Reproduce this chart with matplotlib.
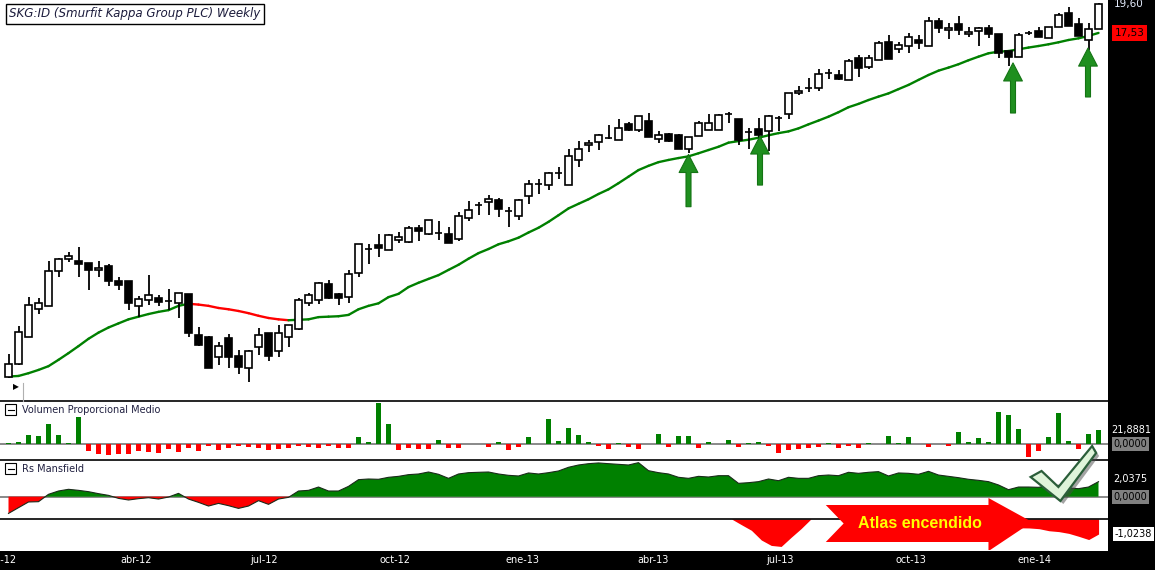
import matplotlib
matplotlib.use('Agg')
import matplotlib.pyplot as plt
import numpy as np
from matplotlib.patches import Polygon, Rectangle
from matplotlib.lines import Line2D
from matplotlib.transforms import blended_transform_factory
from matplotlib.ticker import NullLocator

# ---------------- data (weekly candles, SKG:ID) ----------------
opens = [4.66, 4.90, 5.44, 6.06, 6.13, 7.01, 7.34, 7.29, 7.23, 7.04,
         7.15, 6.75, 6.75, 6.13, 6.27, 6.32, 6.25, 6.20, 6.42, 5.48,
         5.44, 5.04, 5.42, 5.06, 4.83, 5.23, 5.52, 5.15, 5.44, 5.61,
         6.20, 6.27, 6.67, 6.42, 6.34, 6.96, 7.63, 7.75, 7.60, 7.90,
         7.84, 8.27, 8.09, 8.11, 8.09, 7.93, 8.60, 9.04, 9.14, 9.22,
         8.83, 8.67, 9.36, 9.80, 9.76, 10.22, 9.76, 10.75, 11.39, 11.52,
         11.70, 11.61, 12.35, 12.06, 12.49, 11.65, 11.88, 11.84, 11.21, 11.79,
         12.06, 12.06, 12.83, 12.59, 11.97, 12.11, 12.02, 12.64, 12.83, 13.91,
         14.18, 14.18, 15.02, 14.91, 14.63, 15.92, 15.38, 15.80, 16.93, 16.48,
         16.67, 17.06, 16.67, 18.35, 17.73, 18.15, 17.46, 17.66, 17.87, 17.46,
         16.35, 15.98, 17.53, 17.66, 17.19, 17.94, 18.93, 18.15, 17.06, 17.80]
highs = [5.09, 5.67, 6.34, 6.32, 7.29, 7.37, 7.54, 7.69, 7.23, 7.29,
         7.20, 6.85, 6.75, 6.37, 6.90, 6.39, 6.54, 6.44, 6.42, 5.65,
         5.46, 5.33, 5.50, 5.17, 5.17, 5.63, 5.52, 5.70, 5.70, 6.32,
         6.44, 6.72, 6.77, 6.44, 7.04, 7.78, 7.78, 8.09, 8.09, 8.15,
         8.34, 8.37, 8.53, 8.50, 8.31, 8.80, 9.18, 9.14, 9.40, 9.29,
         8.97, 9.25, 9.95, 9.99, 10.26, 10.46, 11.21, 11.56, 11.61, 11.88,
         12.30, 12.59, 12.44, 12.74, 12.88, 12.02, 11.92, 11.88, 11.75, 12.49,
         12.83, 12.83, 12.93, 12.59, 12.16, 12.64, 12.78, 12.74, 13.91, 14.30,
         14.74, 15.26, 15.26, 15.20, 15.86, 16.11, 16.11, 16.99, 17.40, 16.93,
         17.53, 17.40, 18.64, 18.57, 18.21, 18.72, 17.94, 17.94, 18.08, 17.46,
         16.35, 17.53, 17.66, 17.94, 17.94, 18.93, 19.37, 18.57, 18.21, 19.68]
lows = [4.65, 4.88, 5.44, 5.94, 6.13, 6.85, 7.26, 6.85, 6.52, 6.85,
        6.62, 6.52, 6.03, 5.87, 6.15, 6.13, 6.03, 5.85, 5.44, 5.25,
        4.83, 4.88, 4.83, 4.72, 4.57, 5.07, 4.96, 5.04, 5.23, 5.59,
        6.13, 6.18, 6.30, 6.15, 6.20, 6.85, 7.20, 7.40, 7.60, 7.81,
        7.81, 7.87, 8.05, 7.90, 7.81, 7.87, 8.50, 8.70, 8.70, 8.63,
        8.31, 8.53, 9.08, 9.43, 9.58, 9.99, 9.76, 10.46, 11.08, 11.17,
        11.65, 11.61, 12.02, 11.97, 11.75, 11.47, 11.52, 11.21, 11.04, 11.79,
        12.06, 12.06, 12.39, 11.39, 11.21, 11.61, 11.13, 12.02, 12.59, 13.81,
        13.96, 14.02, 14.68, 14.63, 14.63, 14.80, 15.26, 15.80, 15.86, 16.22,
        16.22, 16.48, 16.67, 17.53, 17.13, 17.40, 17.26, 16.67, 17.19, 15.92,
        15.44, 15.98, 17.40, 17.26, 17.19, 17.94, 18.01, 17.33, 16.42, 17.80]
closes = [4.90, 5.54, 6.15, 6.20, 7.01, 7.34, 7.43, 7.20, 7.04, 7.09,
          6.75, 6.64, 6.20, 6.30, 6.39, 6.22, 6.24, 6.44, 5.52, 5.27,
          4.83, 5.25, 5.04, 4.85, 5.15, 5.48, 5.06, 5.52, 5.70, 6.27,
          6.39, 6.69, 6.32, 6.32, 6.93, 7.78, 7.62, 7.66, 8.05, 7.99,
          8.27, 8.18, 8.53, 8.12, 7.81, 8.67, 8.87, 9.03, 9.25, 8.90,
          8.84, 9.22, 9.80, 9.81, 10.22, 10.23, 10.92, 11.21, 11.47, 11.84,
          11.71, 12.16, 12.06, 12.74, 11.75, 11.84, 11.56, 11.21, 11.75, 12.39,
          12.39, 12.78, 12.82, 11.61, 11.96, 11.84, 12.74, 12.65, 13.91, 14.02,
          14.17, 14.97, 15.03, 14.68, 15.73, 15.32, 15.92, 16.86, 15.86, 16.74,
          17.26, 16.86, 18.35, 17.87, 17.87, 17.73, 17.59, 17.87, 17.46, 16.22,
          15.98, 17.40, 17.54, 17.26, 17.94, 18.79, 18.01, 17.33, 17.80, 19.60]
ma30 = [4.67, 4.68, 4.73, 4.79, 4.86, 4.98, 5.11, 5.25, 5.40, 5.53,
        5.64, 5.73, 5.82, 5.88, 5.94, 5.99, 6.03, 6.13, 6.18, 6.16,
        6.13, 6.08, 6.05, 6.01, 5.96, 5.90, 5.85, 5.82, 5.80, 5.81,
        5.82, 5.87, 5.88, 5.89, 5.92, 6.05, 6.13, 6.19, 6.34, 6.42,
        6.59, 6.70, 6.80, 6.90, 7.04, 7.18, 7.35, 7.51, 7.63, 7.77,
        7.86, 7.97, 8.13, 8.28, 8.47, 8.69, 8.92, 9.08, 9.24, 9.43,
        9.60, 9.83, 10.08, 10.34, 10.51, 10.66, 10.75, 10.83, 10.90, 11.03,
        11.17, 11.31, 11.49, 11.56, 11.62, 11.71, 11.82, 11.92, 12.00, 12.14,
        12.33, 12.51, 12.70, 12.92, 13.17, 13.34, 13.54, 13.72, 13.89, 14.12,
        14.35, 14.63, 14.91, 15.16, 15.34, 15.54, 15.78, 16.00, 16.21, 16.31,
        16.35, 16.46, 16.57, 16.67, 16.78, 16.91, 17.06, 17.17, 17.33, 17.53]
volume = [2.0, 3.6, 14.3, 12.7, 31.0, 14.3, 2.0, 41.7, -9.7, -14.3,
          -16.3, -14.3, -14.3, -9.7, -11.2, -12.7, -6.6, -11.2, -5.1, -9.7,
          -2.0, -8.1, -5.1, -2.0, -4.1, -5.1, -8.1, -6.6, -5.1, -2.5,
          -4.1, -5.1, -2.0, -5.1, -5.1, 11.2, 3.6, 63.1, 31.0, -8.1,
          -5.1, -6.6, -6.6, 6.6, -5.1, -5.1, 0.0, 0.0, -3.6, 3.6,
          -8.1, -3.6, 11.2, 0.0, 38.7, 5.1, 24.9, 14.3, 3.6, -2.0,
          -6.6, 2.0, -3.6, -6.6, 0.0, 15.8, -3.6, 12.7, 12.7, -5.1,
          3.6, 0.0, 6.6, -3.6, 2.5, 3.6, -2.0, -12.7, -8.1, -6.6,
          -5.1, -3.6, 2.0, -5.1, -2.0, -5.1, 2.0, 0.0, 12.7, 2.0,
          11.2, 0.0, -3.6, 0.0, -2.0, 18.8, 3.6, 9.7, 3.6, 49.4,
          44.8, 23.4, -18.8, -9.7, 11.2, 47.8, 5.1, -6.6, 15.8, 21.8881]
rs_mansfield = [-2.27, -1.49, -0.72, -0.68, 0.32, 0.77, 1.00, 0.86, 0.68, 0.41,
                0.18, -0.23, -0.45, -0.27, -0.14, -0.32, -0.05, 0.45, -0.32, -0.77,
                -1.27, -0.91, -1.22, -1.59, -1.27, -0.54, -1.04, -0.32, -0.09, 0.77,
                0.86, 1.31, 0.77, 0.77, 1.40, 2.31, 2.40, 2.36, 2.63, 2.76,
                2.99, 3.08, 3.35, 3.04, 2.49, 3.08, 3.26, 3.31, 3.35, 3.08,
                2.90, 2.81, 3.22, 3.08, 3.26, 3.49, 3.99, 4.30, 4.48, 4.58,
                4.48, 4.39, 4.30, 4.62, 3.53, 3.26, 3.08, 2.63, 2.49, 2.76,
                2.67, 2.85, 2.85, 1.81, 1.90, 2.04, 2.40, 2.17, 2.63, 2.49,
                2.49, 2.85, 2.94, 2.85, 3.31, 3.17, 3.31, 3.40, 2.81, 3.22,
                3.17, 3.04, 3.44, 2.94, 2.76, 2.58, 2.36, 2.22, 2.04, 1.59,
                0.95, 1.31, 1.31, 1.27, 1.49, 1.54, 1.18, 1.09, 1.31, 2.0375]
atlas = [0.0] * 72 + [0.0, -0.39, -0.77, -1.43, -1.80, -1.87, -1.25, -0.66, 0.0] \
        + [0.0] * 16 + [-0.25, -0.45, -0.55, -0.60, -0.60, -0.61, -0.66, -0.80,
                        -0.86, -0.98, -1.18, -1.40, -1.0238]

tick_labels = ['ene-12', 'abr-12', 'jul-12', 'oct-12', 'ene-13',
               'abr-13', 'jul-13', 'oct-13', 'ene-14']
tick_pos = [-1.75, 12.0, 24.9, 38.1, 50.9, 64.1, 76.9, 90.05, 102.5]

# support arrows (week index, tip price, tail price)
arrow_week = [68.0, 75.15, 100.45, 107.95]
arrow_tip = [10.98, 11.79, 15.62, 16.54]
arrow_tail = [8.98, 9.76, 12.88, 13.70]

title = 'SKG:ID (Smurfit Kappa Group PLC) Weekly'

# ---------------- figure ----------------
W, H = 1155, 570
fig = plt.figure(figsize=(W / 100, H / 100), dpi=100, facecolor='black')


def fx(px):
    return px / W


def fy(py):
    return 1 - py / H


PLOT_RIGHT = 1108


def panel(top, bottom):
    a = fig.add_axes([0, fy(bottom), fx(PLOT_RIGHT), (bottom - top) / H])
    a.set_facecolor('white')
    for s in a.spines.values():
        s.set_visible(False)
    a.tick_params(left=False, bottom=False, labelleft=False, labelbottom=False)
    return a


ax = panel(0, 401)
axv = panel(401, 460)
axr = panel(460, 519)
axl = panel(519, 551)

n = len(closes)
idx = np.arange(n)
o = np.array(opens)
c = np.array(closes)
hi = np.array(highs)
lo = np.array(lows)
ma = np.array(ma30)
XL = (-0.85, 109.95)

# ---- main price panel ----
ax.set_yscale('log')
ax.set_ylim(4.25, 19.90)
ax.set_xlim(*XL)
ax.yaxis.set_major_locator(NullLocator())
ax.yaxis.set_minor_locator(NullLocator())
ax.set_xticks([])

for i in range(n - 1):
    col = '#ff0000' if ma[i + 1] < ma[i] else '#008000'
    ax.plot(idx[i:i + 2], ma[i:i + 2], color=col, lw=1.7,
            solid_capstyle='round', zorder=2)

up = c >= o
blo = np.minimum(o, c)
bh = np.maximum(np.abs(c - o), 0.01)
ax.vlines(idx, lo, hi, color='black', lw=1.3, zorder=3)
ax.bar(idx, bh, bottom=blo, width=0.76,
       color=np.where(up, 'white', 'black'), edgecolor='black',
       linewidth=1.2, zorder=4)

for xw, t, b in zip(arrow_week, arrow_tip, arrow_tail):
    ax.annotate('', xy=(xw, t), xytext=(xw, b),
                arrowprops=dict(facecolor='#1f8f1f', edgecolor='#147414',
                                width=3.6, headwidth=13.5, headlength=13,
                                shrink=0, lw=0.8), zorder=6)

tr = blended_transform_factory(ax.transAxes, ax.transData)
ax.text(1.005, c[-1], f'{c[-1]:.2f}'.replace('.', ','), transform=tr,
        color='#e6eeff', fontsize=7.5, va='center', ha='left', clip_on=False)
ax.text(1.006, ma[-1], f'{ma[-1]:.2f}'.replace('.', ','), transform=tr,
        color='black', fontsize=7.5, va='center', ha='left', clip_on=False,
        bbox=dict(boxstyle='square,pad=0.25', fc='#ff0000', ec='none'))

fig.text(fx(9), fy(14), title, fontsize=8.6, style='italic', color='#1c1c3c',
         va='center', ha='left',
         bbox=dict(boxstyle='square,pad=0.28', fc='white', ec='black', lw=1))
fig.text(fx(13), fy(387), '\u25B6', fontsize=5.5, color='black',
         va='center', ha='left')
fig.add_artist(Line2D([fx(23), fx(23)], [fy(383), fy(401)],
                      transform=fig.transFigure, color='#b0b0b0', lw=0.8))

# ---- volume panel ----
vol = np.array(volume)
axv.set_xlim(*XL)
axv.set_ylim(-24.0, 66.3)
axv.bar(idx, vol, width=0.5, color=np.where(vol >= 0, '#008000', '#ff0000'),
        zorder=2)
axv.axhline(0, color='#808080', lw=1.3, zorder=1)
axv.spines['top'].set_visible(True)
axv.spines['top'].set_color('black')
axv.spines['top'].set_linewidth(1.2)
trv = blended_transform_factory(axv.transAxes, axv.transData)
axv.text(1.003, vol[-1], f'{vol[-1]:.4f}'.replace('.', ','), transform=trv,
         color='white', fontsize=7, va='center', ha='left', clip_on=False)
axv.text(1.005, 0, '0,0000', transform=trv, color='black', fontsize=7,
         va='center', ha='left', clip_on=False,
         bbox=dict(boxstyle='square,pad=0.2', fc='#808080', ec='none'))

# ---- RS Mansfield panel ----
rs = np.array(rs_mansfield)
axr.set_xlim(*XL)
axr.set_ylim(-3.03, 4.98)
axr.fill_between(idx, 0, rs, where=rs >= 0, interpolate=True,
                 color='#008000', lw=0, zorder=2)
axr.fill_between(idx, 0, rs, where=rs <= 0, interpolate=True,
                 color='#ff0000', lw=0, zorder=2)
axr.plot(idx, rs, color='#1a2a1a', lw=0.8, zorder=3)
axr.axhline(0, color='#808080', lw=1.3, zorder=1)
axr.spines['top'].set_visible(True)
axr.spines['top'].set_color('black')
axr.spines['top'].set_linewidth(1.2)
trr = blended_transform_factory(axr.transAxes, axr.transData)
axr.text(1.005, rs[-1] + 0.3, f'{rs[-1]:.4f}'.replace('.', ','), transform=trr,
         color='white', fontsize=7, va='center', ha='left', clip_on=False)
axr.text(1.005, 0, '0,0000', transform=trr, color='black', fontsize=7,
         va='center', ha='left', clip_on=False,
         bbox=dict(boxstyle='square,pad=0.2', fc='#808080', ec='none'))

# ---- lower panel ----
at = np.array(atlas)
axl.set_xlim(*XL)
axl.set_ylim(-2.18, 0)
axl.fill_between(idx, 0, at, where=at <= 0, color='#ff0000', lw=0)
axl.spines['top'].set_visible(True)
axl.spines['top'].set_color('black')
axl.spines['top'].set_linewidth(1.2)
trl = blended_transform_factory(axl.transAxes, axl.transData)
axl.text(1.006, at[-1], f'{at[-1]:.4f}'.replace('.', ','), transform=trl,
         color='black', fontsize=7, va='center', ha='left', clip_on=False,
         bbox=dict(boxstyle='square,pad=0.2', fc='white', ec='none'))
axl.set_xticks(tick_pos)
axl.set_xticklabels(tick_labels)
axl.tick_params(axis='x', bottom=True, labelbottom=True, length=0, pad=3,
                labelcolor='white', labelsize=7)

# panel titles with collapse icons
for ttl, top in [('Volumen Proporcional Medio', 404), ('Rs Mansfield', 463)]:
    fig.add_artist(Rectangle((fx(5), fy(top + 11)), 11 / W, 11 / H,
                             transform=fig.transFigure, fill=False,
                             ec='black', lw=0.8))
    fig.add_artist(Line2D([fx(7.5), fx(13.5)], [fy(top + 5.5), fy(top + 5.5)],
                          transform=fig.transFigure, color='black', lw=0.8))
    fig.text(fx(22), fy(top + 6), ttl, fontsize=7, color='#202040',
             va='center', ha='left')

# ---- "Atlas encendido" arrow and check mark ----
ta = blended_transform_factory(axl.transData, fig.transFigure)
arrow_pts = [(81.5, fy(505)), (97.9, fy(505)), (97.9, fy(498)),
             (102.3, fy(522)), (98.07, fy(550)), (97.9, fy(550)),
             (97.9, fy(542)), (81.5, fy(542)), (83.3, fy(523.5))]
fig.add_artist(Polygon(arrow_pts, closed=True, transform=ta,
                       fc='#ff0000', ec='none', zorder=10))
fig.text(91.0, fy(523.5), 'Atlas encendido', transform=ta,
         fontsize=11.5, fontweight='bold', family='Liberation Sans',
         color='#ffff00', ha='center', va='center', zorder=11)

check_pts = [(102.15, fy(477)), (103.25, fy(471)), (104.95, fy(487)),
             (108.35, fy(446)), (108.75, fy(453)), (105.15, fy(501))]
shadow_pts = [(x + 0.3, y - 3 / H) for x, y in check_pts]
fig.add_artist(Polygon(shadow_pts, closed=True, transform=ta,
                       fc='#4a4a4a', ec='none', alpha=0.5, zorder=11))
fig.add_artist(Polygon(check_pts, closed=True, transform=ta,
                       fc='#dff4da', ec='#2b5e3a', lw=1.6, zorder=12))

fig.savefig('out.png', dpi=100, facecolor='black')
